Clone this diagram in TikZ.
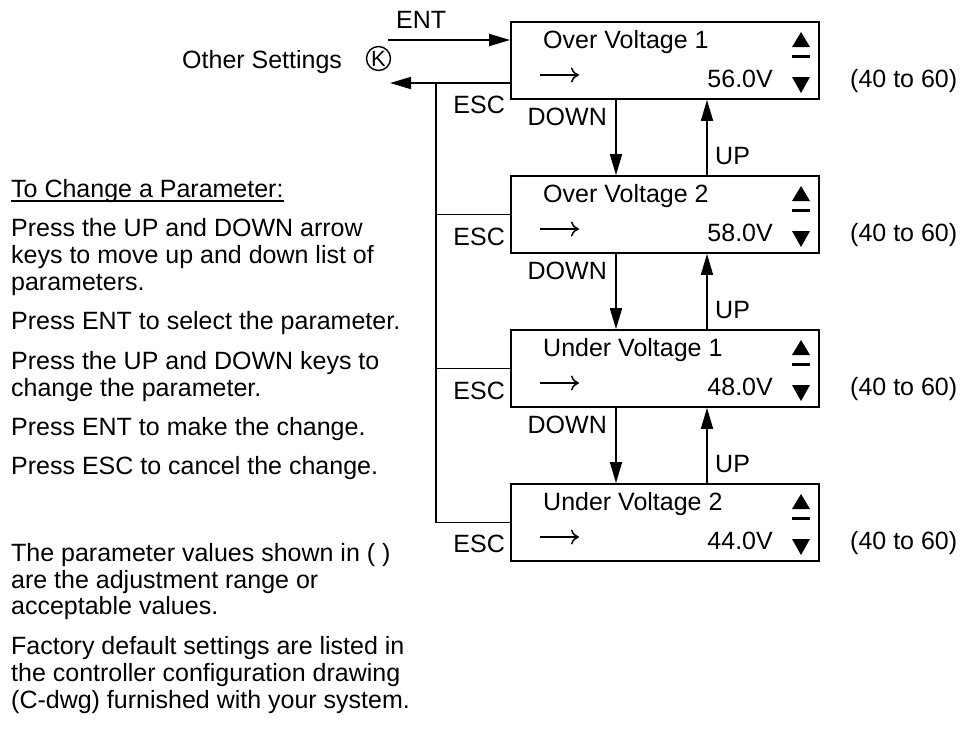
\documentclass[tikz,border=0pt]{standalone}
\usepackage{fontspec}
\setmainfont{Liberation Sans}
\usetikzlibrary{arrows.meta}
\begin{document}
\begin{tikzpicture}[x=1pt,y=-1pt,
  every node/.style={font=\fontsize{25}{27}\selectfont, inner sep=0pt},
  ln/.style={line width=1.8pt},
  arr/.style={ln,-{Triangle[length=21pt,width=12pt]}},
  box/.style={draw,line width=1.8pt,minimum width=308pt,minimum height=77pt},
  txt/.style={anchor=base west},
  rtxt/.style={anchor=base east},
  thinarrow/.style={line width=1.5pt,-{Computer Modern Rightarrow[length=8pt,width=15pt,line width=1.5pt]}},
]
\useasboundingbox (0,0) rectangle (964,732);

% boxes
\node[box] (b1) at (665,60.5) {};
\node[box] (b2) at (665,214.5) {};
\node[box] (b3) at (665,368.5) {};
\node[box] (b4) at (665,522.5) {};

\foreach \t/\ttl/\val [count=\i] in {22/Over Voltage 1/56.0V, 176/Over Voltage 2/58.0V, 330/Under Voltage 1/48.0V, 484/Under Voltage 2/44.0V} {
  \node[txt] (title\i) at (543,\t+26) {\ttl};
  \coordinate (as\i) at (540,\t+53);
  \coordinate (ae\i) at (579,\t+53);
  \draw[thinarrow] (as\i) -- (ae\i);
  \node[rtxt] (val\i) at (773,\t+65) {\val};
  \node[txt] (rng\i) at (850,\t+65) {(40 to 60)};
  \fill (792,\t+25) -- (810,\t+25) -- (801,\t+10) -- cycle;
  \fill (792,\t+32.5) rectangle (810,\t+35.5);
  \fill (792,\t+55) -- (810,\t+55) -- (801,\t+71) -- cycle;
}

% vertical navigation
\coordinate (xd) at (616,0);
\coordinate (xu) at (707,0);
\draw[arr] (b1.south -| xd) -- (b2.north -| xd);
\draw[arr] (b2.south -| xd) -- (b3.north -| xd);
\draw[arr] (b3.south -| xd) -- (b4.north -| xd);
\draw[arr] (b2.north -| xu) -- (b1.south -| xu);
\draw[arr] (b3.north -| xu) -- (b2.south -| xu);
\draw[arr] (b4.north -| xu) -- (b3.south -| xu);
\node[rtxt] (dn1) at (607,125) {DOWN};
\node[rtxt] (dn2) at (607,279) {DOWN};
\node[rtxt] (dn3) at (607,433) {DOWN};
\node[txt] (up1) at (715,164) {UP};
\node[txt] (up2) at (715,318) {UP};
\node[txt] (up3) at (715,472) {UP};

% ENT / ESC
\node[txt] (os) at (182,68) {Other Settings};
\node[font=\fontsize{22}{22}\selectfont] (k) at (378.5,58.5) {K};
\draw[line width=1.4pt] (k.center) circle[radius=12];
\coordinate (entstart) at (388,40);
\draw[arr] (entstart) -- (b1.west |- entstart);
\node[txt] (ent) at (396,28) {ENT};
\coordinate (escend) at (390,83);
\coordinate (trunk) at (436,83);
\draw[arr] (b1.west |- escend) -- (escend);
\draw[ln] (trunk) |- (b4.west);
\draw[ln] (trunk |- b2.west) -- (b2.west);
\draw[ln] (trunk |- b3.west) -- (b3.west);
\node[rtxt] (esc1) at (505,113) {ESC};
\node[rtxt] (esc2) at (505,245) {ESC};
\node[rtxt] (esc3) at (505,399) {ESC};
\node[rtxt] (esc4) at (505,552) {ESC};

% left column
\node[txt] (l1) at (11,197) {To Change a Parameter:};
\draw[line width=1.4pt] ([yshift=-4pt]l1.base west) -- ([yshift=-4pt]l1.base east);
\node[txt] (l2) at (11,236) {Press the UP and DOWN arrow};
\node[txt] (l3) at (11,263) {keys to move up and down list of};
\node[txt] (l4) at (11,290) {parameters.};
\node[txt] (l5) at (11,329) {Press ENT to select the parameter.};
\node[txt] (l6) at (11,369) {Press the UP and DOWN keys to};
\node[txt] (l7) at (11,396) {change the parameter.};
\node[txt] (l8) at (11,435) {Press ENT to make the change.};
\node[txt] (l9) at (11,474) {Press ESC to cancel the change.};
\node[txt] (l10) at (11,561) {The parameter values shown in ( )};
\node[txt] (l11) at (11,588) {are the adjustment range or};
\node[txt] (l12) at (11,614) {acceptable values.};
\node[txt] (l13) at (11,654) {Factory default settings are listed in};
\node[txt] (l14) at (11,681) {the controller configuration drawing};
\node[txt] (l15) at (11,708) {(C-dwg) furnished with your system.};
\end{tikzpicture}
\end{document}
